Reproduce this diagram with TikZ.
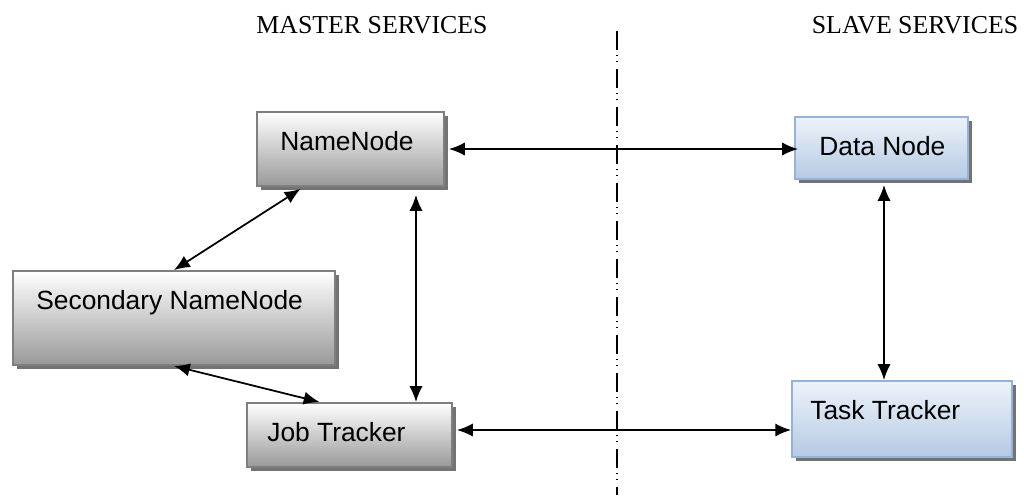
\documentclass[tikz,border=0pt]{standalone}
\usepackage{fontspec}
\setmainfont{Liberation Serif}
\newfontfamily\boxfont{Liberation Sans}
\usetikzlibrary{arrows.meta,shadows}

\definecolor{boxgray}{HTML}{7F7F7F}
\definecolor{boxblue}{HTML}{95B3D7}
\definecolor{bluetop}{HTML}{EEF3FA}
\definecolor{bluebot}{HTML}{B5CAE4}

\tikzset{
  srvbox/.style={draw=boxgray,line width=1.1pt,top color=white,bottom color=black!40,
    drop shadow={shadow xshift=0.08cm,shadow yshift=-0.08cm,opacity=1,fill=black!55}},
  slvbox/.style={srvbox,draw=boxblue,top color=bluetop,bottom color=bluebot},
  boxtxt/.style={font=\boxfont\fontsize{15}{18}\selectfont,inner sep=0pt,anchor=base west},
  head/.style={font=\fontsize{14.7}{17}\selectfont},
  link/.style={line width=1pt,{Latex[length=9pt,width=7.5pt]}-{Latex[length=9pt,width=7.5pt]}},
}

\begin{document}
\begin{tikzpicture}[x=0.02cm,y=-0.02cm]
\useasboundingbox (0,0) rectangle (1024,495);

% column headings and the dividing line
\node[head] (master) at (372,25) {MASTER SERVICES};
\node[head] (slave) at (915,25) {SLAVE SERVICES};
\draw[line width=0.9pt,dash pattern=on 0.38cm off 0.1cm on 0.02cm off 0.1cm on 0.02cm off 0.14cm] (617,31) -- (617,495);

% master side
\node[srvbox,minimum width=3.74cm,minimum height=1.48cm] (nn) at (350.5,149) {};
\node[boxtxt] (nn-lbl) at (280,150.5) {NameNode};
\node[srvbox,minimum width=6.44cm,minimum height=1.88cm] (snn) at (174,318) {};
\node[boxtxt] (snn-lbl) at (36,309.5) {Secondary NameNode};
\node[srvbox,minimum width=4.1cm,minimum height=1.28cm] (jt) at (349.5,435) {};
\node[boxtxt] (jt-lbl) at (267,441.5) {Job Tracker};

% slave side
\node[slvbox,minimum width=3.46cm,minimum height=1.24cm] (dn) at (881.5,148) {};
\node[boxtxt] (dn-lbl) at (819,155.5) {Data Node};
\node[slvbox,minimum width=4.4cm,minimum height=1.52cm] (tt) at (902,419) {};
\node[boxtxt] (tt-lbl) at (810,419.5) {Task Tracker};

% links
\draw[link] ([xshift=0.08cm]nn.east) -- ([xshift=0.08cm]nn.east -| dn.west);
\draw[link] ([xshift=-1cm,yshift=-0.04cm]nn.south) -- (snn.north);
\draw[link] (snn.south) -- ([xshift=-0.6cm]jt.north);
\draw[link] ([xshift=1.31cm,yshift=-0.16cm]nn.south) -- ([xshift=1.31cm]nn.south |- jt.north);
\draw[link] ([xshift=0.08cm,yshift=0.1cm]jt.east) -- ([yshift=0.1cm]jt.east -| tt.west);
\draw[link] ([xshift=0.05cm,yshift=-0.1cm]dn.south) -- ([xshift=0.05cm]dn.south |- tt.north);
\end{tikzpicture}
\end{document}
